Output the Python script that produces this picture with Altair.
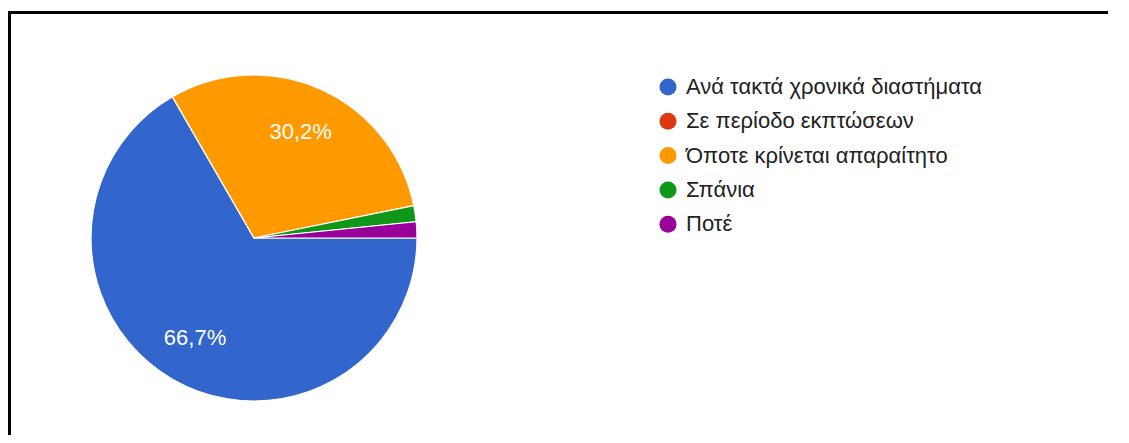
import math
import altair as alt
import pandas as pd

categories = [
    "Ανά τακτά χρονικά διαστήματα",
    "Σε περίοδο εκπτώσεων",
    "Όποτε κρίνεται απαραίτητο",
    "Σπάνια",
    "Ποτέ",
]
counts = [42, 0, 19, 1, 1]
colors = ["#3366CC", "#DC3912", "#FF9900", "#109618", "#990099"]

total = sum(counts)
labels = []
for c in counts:
    p = 100.0 * c / total
    labels.append(f"{p:.1f}%".replace(".", ",") if p >= 5 else "")

df = pd.DataFrame({
    "cat": categories,
    "count": counts,
    "idx": list(range(len(categories))),
    "label": labels,
})

CX, CY, R = 246, 230, 163
FONT = "Arial, Liberation Sans, sans-serif"

theta = alt.Theta(
    "count:Q", stack=True,
    scale=alt.Scale(range=[math.pi / 2, math.pi / 2 + 2 * math.pi]),
)
color = alt.Color(
    "cat:N",
    scale=alt.Scale(domain=categories, range=colors),
    sort=categories,
    legend=alt.Legend(
        title=None, orient="none", legendX=649, legendY=68,
        symbolType="circle", symbolSize=290, symbolStrokeWidth=0,
        labelFont=FONT, labelFontSize=22, labelColor="#222222",
        labelOffset=7, rowPadding=12.3, padding=0, labelLimit=600,
    ),
)

base = alt.Chart(df)

pie = base.mark_arc(outerRadius=R, stroke="white", strokeWidth=1.2).encode(
    theta=theta,
    color=color,
    order=alt.Order("idx:Q"),
    x=alt.value(CX),
    y=alt.value(CY),
)

text = base.mark_text(
    radius=116, font=FONT, fontSize=22, color="white", dx=-1
).encode(
    theta=theta,
    text="label:N",
    order=alt.Order("idx:Q"),
    x=alt.value(CX),
    y=alt.value(CY),
)

frame_df = pd.DataFrame({"a": [0]})
top_line = alt.Chart(frame_df).mark_rect(color="#000000").encode(
    x=alt.value(0), x2=alt.value(1100), y=alt.value(3), y2=alt.value(6)
)
left_line = alt.Chart(frame_df).mark_rect(color="#000000").encode(
    x=alt.value(0), x2=alt.value(3), y=alt.value(3), y2=alt.value(427)
)

chart = alt.layer(pie, text, top_line, left_line).properties(
    width=1113, height=427, padding=0,
    autosize=alt.AutoSizeParams(type="none"),
).configure_view(stroke="transparent", strokeWidth=0)

chart.save("out.html", embed_options={"renderer": "svg", "actions": False})
